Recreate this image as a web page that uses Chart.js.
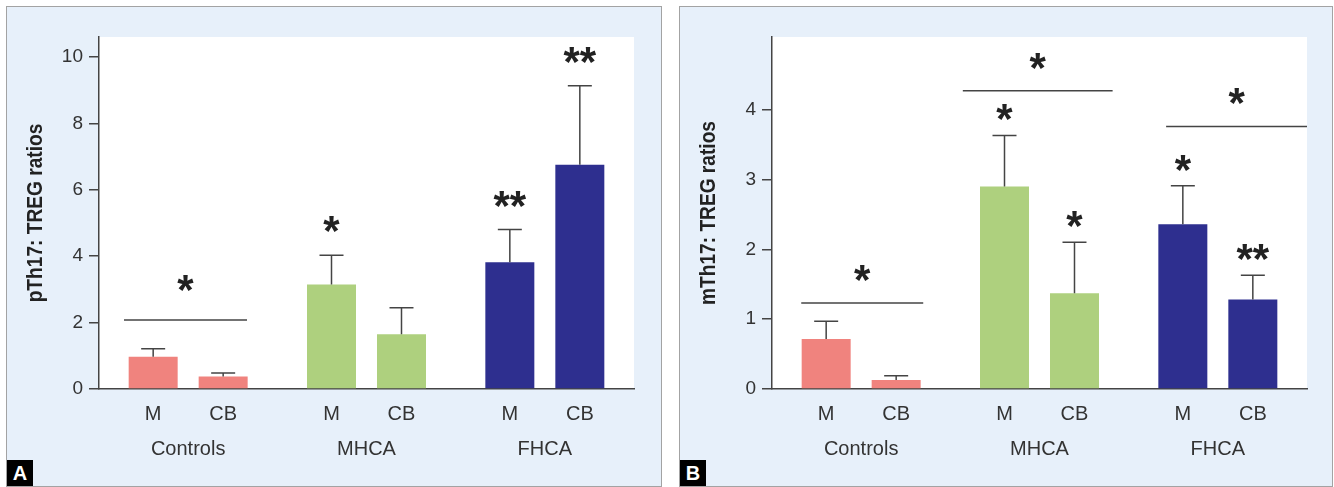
<!DOCTYPE html>
<html>
<head>
<meta charset="utf-8">
<script src="https://cdn.jsdelivr.net/npm/chart.js@4.4.1/dist/chart.umd.min.js"></script>
<style>
  html, body { margin: 0; padding: 0; background: #fff; }
  body { width: 1334px; height: 487px; position: relative; overflow: hidden; }
  .panel { position: absolute; top: 6px; height: 481px; box-sizing: border-box;
           border: 1px solid #a3a3a3; background: #e7f0fa; }
  #pa { left: 6px; width: 656px; }
  #pb { left: 679px; width: 654px; }
  .panel canvas { position: absolute; left: 0; top: 0; }
  .tag { position: absolute; left: 0; bottom: 0; width: 26px; height: 26px; background: #000;
         color: #fff; font: bold 20px "Liberation Sans", Arial, sans-serif; text-align: center; line-height: 27px; }
</style>
</head>
<body>
<div class="panel" id="pa"><canvas id="ca" width="654" height="479"></canvas><div class="tag">A</div></div>
<div class="panel" id="pb"><canvas id="cb" width="652" height="479"></canvas><div class="tag">B</div></div>
<script>
// ---------- data ----------
const GROUPS = ['Controls', 'MHCA', 'FHCA'];
const SUBGROUPS = ['M', 'CB'];
const GROUP_COLORS = ['#f0837e', '#aed07e', '#2e2f8f'];

// panel A: pTh17 : TREG
const A_M = [0.97, 3.15, 3.82];
const A_M_ERR = [0.24, 0.88, 0.98];
const A_CB = [0.38, 1.65, 6.75];
const A_CB_ERR = [0.10, 0.80, 2.38];
const A_M_STARS = ['', '*', '**'];
const A_CB_STARS = ['', '', '**'];
const A_TICKS = [0, 2, 4, 6, 8, 10];
// bracket lines: group, y value, span in category units, mark
const A_BRACKETS = [
  { group: 0, y: 2.08, from: -0.36, to: 0.33, label: '*' },
];

// panel B: mTh17 : TREG
const B_M = [0.715, 2.90, 2.36];
const B_M_ERR = [0.255, 0.73, 0.55];
const B_CB = [0.13, 1.37, 1.28];
const B_CB_ERR = [0.06, 0.73, 0.35];
const B_M_STARS = ['', '*', '*'];
const B_CB_STARS = ['', '*', '**'];
const B_TICKS = [0, 1, 2, 3, 4];
const B_BRACKETS = [
  { group: 0, y: 1.23, from: -0.336, to: 0.348, label: '*' },
  { group: 1, y: 4.27, from: -0.43, to: 0.41, label: '*' },
  { group: 2, y: 3.76, from: -0.29, to: 0.5, label: '*' },
];

// ---------- style ----------
const FONT = '"Liberation Sans", Arial, Helvetica, sans-serif';
const INK = '#444';
const TXT = '#333';

function drawCentered(ctx, text, cx, cy) {
  const m = ctx.measureText(text);
  ctx.fillText(text, cx, cy + (m.actualBoundingBoxAscent - m.actualBoundingBoxDescent) / 2);
}

const annotate = {
  id: 'annotate',
  beforeDraw(chart) {
    const { ctx, chartArea: a } = chart;
    ctx.save();
    ctx.fillStyle = '#fff';
    ctx.fillRect(a.left, a.top, a.right - a.left, a.bottom - a.top);
    ctx.restore();
  },
  afterDatasetsDraw(chart, args, opts) {
    const { ctx, chartArea: a, scales: { x, y } } = chart;
    ctx.save();
    ctx.strokeStyle = INK;
    ctx.lineWidth = 1.5;
    ctx.fillStyle = '#222';
    ctx.textAlign = 'center';
    ctx.textBaseline = 'alphabetic';

    chart.data.datasets.forEach((ds, di) => {
      chart.getDatasetMeta(di).data.forEach((bar, i) => {
        // error bar
        const top = y.getPixelForValue(ds.data[i] + ds.err[i]);
        ctx.beginPath();
        ctx.moveTo(bar.x, bar.y);
        ctx.lineTo(bar.x, top);
        ctx.moveTo(bar.x - 12, top);
        ctx.lineTo(bar.x + 12, top);
        ctx.stroke();
        // significance mark
        if (ds.stars[i]) {
          ctx.fillStyle = '#222';
          ctx.font = 'bold 42px ' + FONT;
          drawCentered(ctx, ds.stars[i], bar.x, top - opts.starGap);
        }
        // sub label under the bar
        ctx.fillStyle = TXT;
        ctx.font = '20px ' + FONT;
        drawCentered(ctx, ds.label, bar.x, a.bottom + 24);
      });
    });

    ctx.fillStyle = '#222';
    opts.brackets.forEach(b => {
      const yy = y.getPixelForValue(b.y);
      const x0 = x.getPixelForValue(b.group + b.from);
      const x1 = x.getPixelForValue(b.group + b.to);
      ctx.beginPath();
      ctx.moveTo(x0, yy);
      ctx.lineTo(x1, yy);
      ctx.stroke();
      ctx.font = 'bold 42px ' + FONT;
      drawCentered(ctx, b.label, (x0 + x1) / 2, yy - opts.bracketGap);
    });
    ctx.restore();
  },
  afterDraw(chart, args, opts) {
    // y title: tall, slightly condensed bold face like the original
    const { ctx, chartArea: a } = chart;
    ctx.save();
    ctx.translate(35, (a.top + a.bottom) / 2);
    ctx.rotate(-Math.PI / 2);
    ctx.scale(0.87, 1);
    ctx.fillStyle = '#222';
    ctx.font = 'bold 22px ' + FONT;
    ctx.textAlign = 'center';
    ctx.textBaseline = 'alphabetic';
    ctx.fillText(opts.title, 0, 0);
    ctx.restore();
  },
};

function makeChart(id, cfg) {
  const cv = document.getElementById(id);
  return new Chart(cv, {
    type: 'bar',
    data: {
      labels: GROUPS,
      datasets: [
        { label: SUBGROUPS[0], data: cfg.m, err: cfg.mErr, stars: cfg.mStars,
          backgroundColor: GROUP_COLORS, borderWidth: 0 },
        { label: SUBGROUPS[1], data: cfg.cb, err: cfg.cbErr, stars: cfg.cbStars,
          backgroundColor: GROUP_COLORS, borderWidth: 0 },
      ],
    },
    options: {
      responsive: false,
      animation: false,
      events: [],
      layout: { padding: { top: 30, right: cv.width - 627, bottom: 0, left: 0 } },
      datasets: { bar: { categoryPercentage: 0.785, barPercentage: 0.7 } },
      plugins: {
        legend: { display: false },
        tooltip: { enabled: false },
        annotate: { title: cfg.title, brackets: cfg.brackets, starGap: cfg.starGap, bracketGap: cfg.bracketGap },
      },
      scales: {
        x: {
          afterFit: s => { s.height = 97; },
          grid: { display: true, drawOnChartArea: false, drawTicks: false },
          border: { color: INK, width: 1.5 },
          ticks: { color: TXT, font: { family: FONT, size: 20 }, padding: 48 },
        },
        y: {
          min: 0,
          max: cfg.max,
          afterFit: s => { s.width = 92; },
          afterBuildTicks: s => { s.ticks = cfg.ticks.map(v => ({ value: v })); },
          grid: { drawOnChartArea: false, drawTicks: true, tickLength: 10, color: INK, lineWidth: 1.5 },
          border: { color: INK, width: 1.5 },
          ticks: { color: TXT, font: { family: FONT, size: 19 }, padding: 6 },
        },
      },
    },
    plugins: [annotate],
  });
}

makeChart('ca', {
  title: 'pTh17: TREG ratios', max: 10.6, ticks: A_TICKS,
  m: A_M, mErr: A_M_ERR, mStars: A_M_STARS,
  cb: A_CB, cbErr: A_CB_ERR, cbStars: A_CB_STARS,
  brackets: A_BRACKETS, starGap: 31, bracketGap: 37,
});
makeChart('cb', {
  title: 'mTh17: TREG ratios', max: 5.04, ticks: B_TICKS,
  m: B_M, mErr: B_M_ERR, mStars: B_M_STARS,
  cb: B_CB, cbErr: B_CB_ERR, cbStars: B_CB_STARS,
  brackets: B_BRACKETS, starGap: 23, bracketGap: 30,
});
</script>
</body>
</html>
